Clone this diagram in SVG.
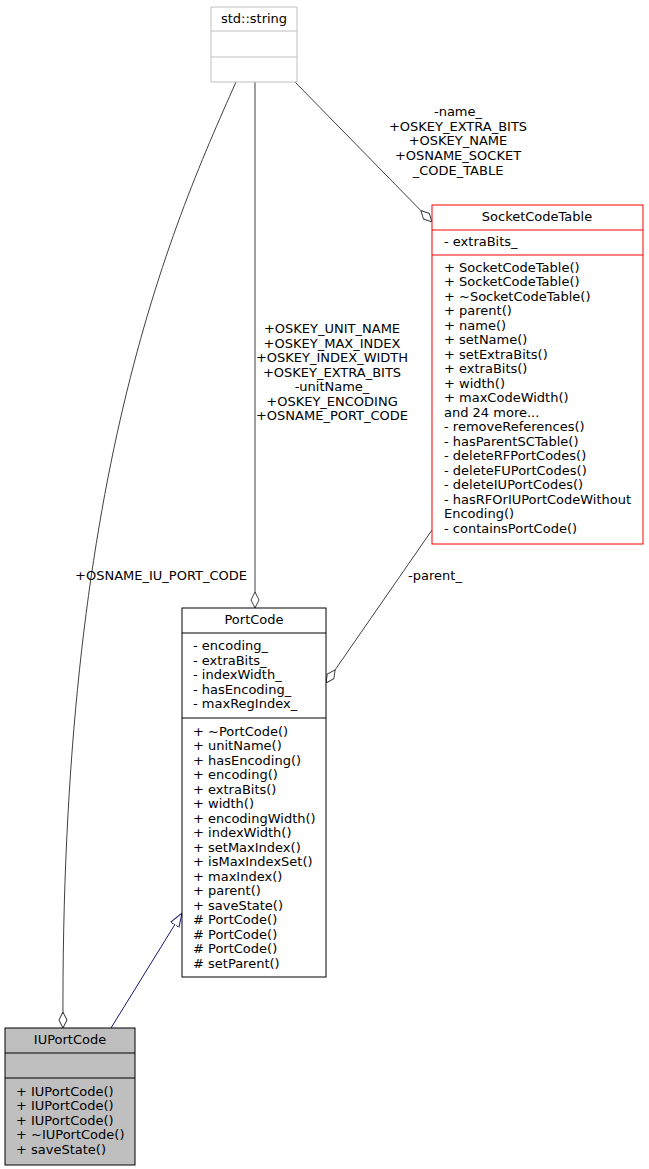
<svg xmlns="http://www.w3.org/2000/svg" width="649" height="1169" viewBox="0 0 649 1169">
<style>
text{font-family:"DejaVu Sans",sans-serif;font-size:13px;fill:#000}
.c{text-anchor:middle}
.e{fill:none;stroke:#404040;stroke-width:1}
</style>
<defs>
<marker id="dia" viewBox="0 0 16 10" refX="16" refY="5" markerWidth="16" markerHeight="10" orient="auto" markerUnits="userSpaceOnUse">
<path d="M0,5 L8,1 L16,5 L8,9 Z" fill="#fff" stroke="#404040"/>
</marker>
<marker id="tri" viewBox="0 0 14 12" refX="14" refY="6" markerWidth="14" markerHeight="12" orient="auto" markerUnits="userSpaceOnUse">
<path d="M0,1 L14,6 L0,11 Z" fill="#fff" stroke="#191970"/>
</marker>
</defs>
<rect width="649" height="1169" fill="#fff"/>
<g id="connectors">
<path class="e" d="M236,82 C170,230 60,480 63,1028" marker-end="url(#dia)"/>
<path class="e" d="M255,82 L255,608" marker-end="url(#dia)"/>
<path class="e" d="M295,82 L432,222" marker-end="url(#dia)"/>
<path class="e" d="M432,530 L326,683" marker-end="url(#dia)"/>
<path d="M111,1028 L182,913" fill="none" stroke="#191970" marker-end="url(#tri)"/>
<text x="161" y="580" class="c">+OSNAME_IU_PORT_CODE</text>
<text x="332" y="333" class="c">+OSKEY_UNIT_NAME</text>
<text x="332" y="348" class="c">+OSKEY_MAX_INDEX</text>
<text x="332" y="362" class="c">+OSKEY_INDEX_WIDTH</text>
<text x="332" y="377" class="c">+OSKEY_EXTRA_BITS</text>
<text x="332" y="391" class="c">-unitName_</text>
<text x="332" y="406" class="c">+OSKEY_ENCODING</text>
<text x="332" y="420" class="c">+OSNAME_PORT_CODE</text>
<text x="458" y="116" class="c">-name_</text>
<text x="458" y="131" class="c">+OSKEY_EXTRA_BITS</text>
<text x="458" y="145" class="c">+OSKEY_NAME</text>
<text x="458" y="160" class="c">+OSNAME_SOCKET</text>
<text x="458" y="175" class="c">_CODE_TABLE</text>
<text x="435" y="580" class="c">-parent_</text>
</g>
<g id="std_string">
<rect x="211" y="7" width="86" height="75" fill="#fff" stroke="#bfbfbf"/>
<line x1="211" y1="31" x2="297" y2="31" stroke="#bfbfbf"/>
<line x1="211" y1="57" x2="297" y2="57" stroke="#bfbfbf"/>
<text x="254" y="23" class="c">std::string</text>
</g>
<g id="SocketCodeTable">
<rect x="432" y="205" width="211" height="339" fill="#fff" stroke="#ff0000"/>
<line x1="432" y1="230" x2="643" y2="230" stroke="#ff0000"/>
<line x1="432" y1="255" x2="643" y2="255" stroke="#ff0000"/>
<text x="537" y="221" class="c">SocketCodeTable</text>
<text x="444" y="246">- extraBits_</text>
<text x="444" y="272">+ SocketCodeTable()</text>
<text x="444" y="286">+ SocketCodeTable()</text>
<text x="444" y="301">+ ~SocketCodeTable()</text>
<text x="444" y="315">+ parent()</text>
<text x="444" y="330">+ name()</text>
<text x="444" y="344">+ setName()</text>
<text x="444" y="359">+ setExtraBits()</text>
<text x="444" y="373">+ extraBits()</text>
<text x="444" y="388">+ width()</text>
<text x="444" y="402">+ maxCodeWidth()</text>
<text x="444" y="417">and 24 more...</text>
<text x="444" y="431">- removeReferences()</text>
<text x="444" y="446">- hasParentSCTable()</text>
<text x="444" y="460">- deleteRFPortCodes()</text>
<text x="444" y="475">- deleteFUPortCodes()</text>
<text x="444" y="489">- deleteIUPortCodes()</text>
<text x="444" y="504">- hasRFOrIUPortCodeWithout</text>
<text x="444" y="518">Encoding()</text>
<text x="444" y="533">- containsPortCode()</text>
</g>
<g id="PortCode">
<rect x="182" y="608" width="144" height="369" fill="#fff" stroke="#000"/>
<line x1="182" y1="633" x2="326" y2="633" stroke="#000"/>
<line x1="182" y1="718" x2="326" y2="718" stroke="#000"/>
<text x="254" y="624" class="c">PortCode</text>
<text x="193" y="650">- encoding_</text>
<text x="193" y="665">- extraBits_</text>
<text x="193" y="679">- indexWidth_</text>
<text x="193" y="694">- hasEncoding_</text>
<text x="193" y="708">- maxRegIndex_</text>
<text x="193" y="736">+ ~PortCode()</text>
<text x="193" y="750">+ unitName()</text>
<text x="193" y="765">+ hasEncoding()</text>
<text x="193" y="779">+ encoding()</text>
<text x="193" y="794">+ extraBits()</text>
<text x="193" y="808">+ width()</text>
<text x="193" y="823">+ encodingWidth()</text>
<text x="193" y="837">+ indexWidth()</text>
<text x="193" y="852">+ setMaxIndex()</text>
<text x="193" y="866">+ isMaxIndexSet()</text>
<text x="193" y="881">+ maxIndex()</text>
<text x="193" y="895">+ parent()</text>
<text x="193" y="910">+ saveState()</text>
<text x="193" y="924"># PortCode()</text>
<text x="193" y="939"># PortCode()</text>
<text x="193" y="953"># PortCode()</text>
<text x="193" y="968"># setParent()</text>
</g>
<g id="IUPortCode">
<rect x="5" y="1028" width="130" height="137" fill="#bfbfbf" stroke="#000"/>
<line x1="5" y1="1053" x2="135" y2="1053" stroke="#000"/>
<line x1="5" y1="1078" x2="135" y2="1078" stroke="#000"/>
<text x="70" y="1044" class="c">IUPortCode</text>
<text x="16" y="1096">+ IUPortCode()</text>
<text x="16" y="1110">+ IUPortCode()</text>
<text x="16" y="1125">+ IUPortCode()</text>
<text x="16" y="1139">+ ~IUPortCode()</text>
<text x="16" y="1154">+ saveState()</text>
</g>
</svg>
